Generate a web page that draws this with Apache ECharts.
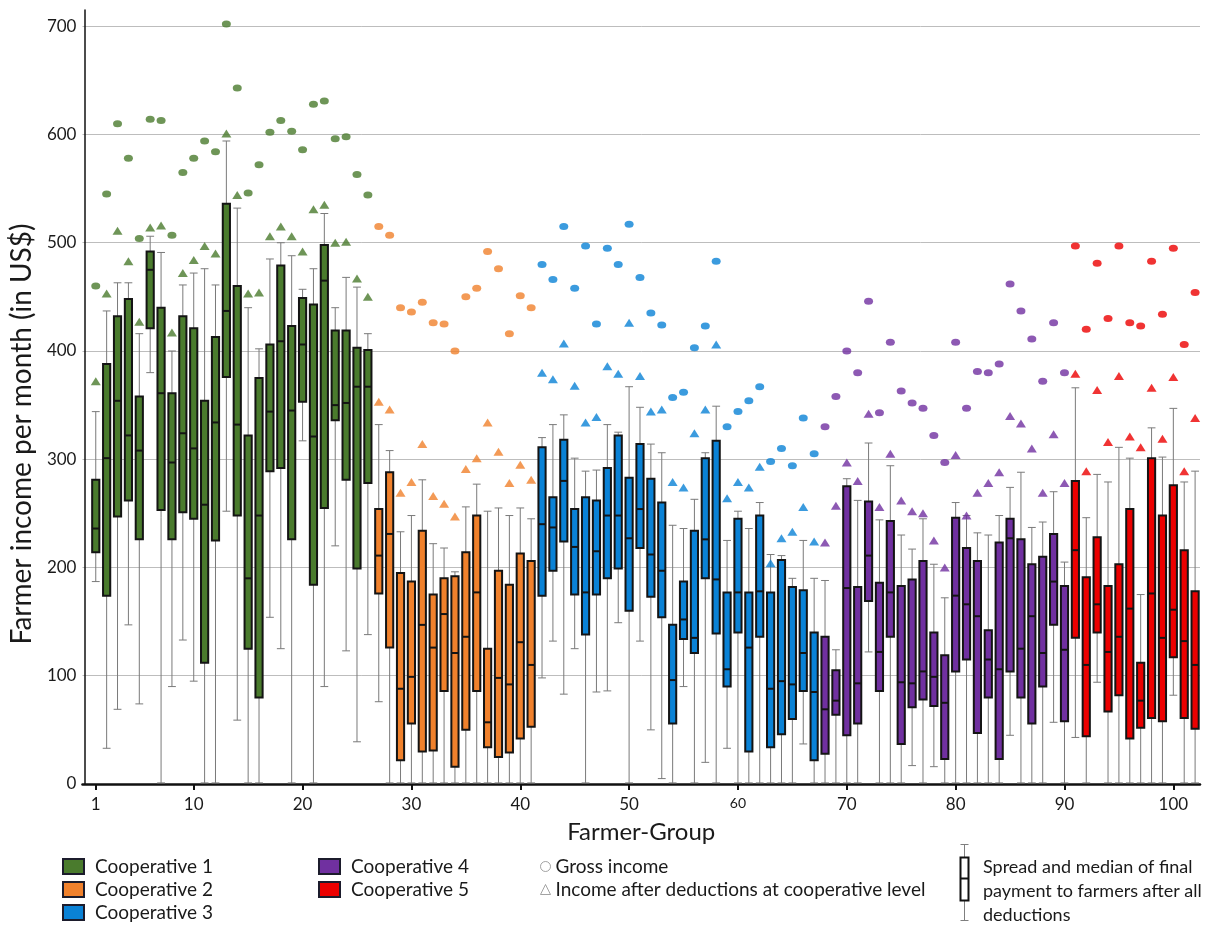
<!DOCTYPE html>
<html>
<head>
<meta charset="utf-8">
<title>Farmer income per month by farmer group</title>
<script src="https://cdn.jsdelivr.net/npm/echarts@6/dist/echarts.min.js"></script>
<style>
  html, body { margin: 0; padding: 0; background: #fff; }
  #chart { width: 1225px; height: 928px; }
</style>
</head>
<body>
<div id="chart"></div>
<script>
// cooperatives, in the order the farmer groups are numbered
const coopNames = ['Cooperative 1', 'Cooperative 2', 'Cooperative 3', 'Cooperative 4', 'Cooperative 5']
const coopSizes = [26, 15, 26, 23, 12]
const coopColors = ['#4a7b2d', '#f0812c', '#0a82d6', '#7030a0', '#ec0000']
const xTickLabels = [1, 10, 20, 30, 40, 50, 60, 70, 80, 90, 100]

// final payment to farmers (US$ / month), one value per farmer group 1..102
const whiskerLow = [
  187, 33, 69, 147, 74, 380, 1, 90, 133, 95, 1, 1, 252, 59, 1, 1, 154, 125, 1, 317, 1, 90, 220, 123, 39, 138,
  76, 1, 1, 1, 1, 1, 1, 1, 1, 1, 1, 1, 1, 1, 1,
  98, 132, 83, 125, 1, 85, 86, 149, 1, 132, 50, 5, 1, 90, 1, 20, 1, 33, 1, 1, 1, 1, 1, 1, 37, 1,
  1, 1, 1, 1, 122, 1, 1, 1, 17, 1, 16, 1, 1, 1, 1, 1, 1, 45, 1, 1, 1, 57, 1,
  43, 1, 94, 1, 1, 1, 1, 1, 1, 82, 1, 1
]
const boxLow = [
  214, 174, 247, 262, 226, 421, 253, 226, 251, 245, 112, 225, 376, 248, 125, 80, 289, 292, 226, 353, 184, 255, 336, 281, 199, 278,
  176, 126, 22, 56, 30, 31, 86, 16, 50, 86, 34, 25, 29, 42, 53,
  174, 197, 224, 175, 138, 175, 190, 199, 160, 218, 173, 154, 56, 134, 121, 190, 139, 90, 140, 30, 136, 34, 46, 60, 86, 22,
  28, 64, 45, 56, 169, 86, 136, 37, 71, 78, 72, 23, 104, 115, 47, 80, 23, 104, 80, 56, 90, 147, 58,
  135, 44, 140, 67, 82, 42, 52, 61, 58, 117, 61, 51
]
const median = [
  236, 301, 354, 322, 308, 475, 361, 297, 324, 310, 258, 334, 437, 332, 190, 248, 344, 409, 345, 406, 321, 465, 350, 352, 367, 367,
  211, 231, 88, 99, 147, 126, 157, 121, 136, 177, 57, 98, 92, 131, 110,
  240, 237, 280, 219, 177, 215, 248, 248, 227, 254, 212, 197, 96, 152, 135, 226, 189, 106, 177, 126, 178, 88, 95, 92, 121, 85,
  69, 77, 181, 93, 211, 122, 177, 94, 93, 104, 99, 75, 174, 166, 155, 115, 106, 227, 125, 155, 121, 187, 124,
  216, 110, 166, 122, 136, 162, 77, 176, 135, 161, 132, 110
]
const boxHigh = [
  281, 388, 432, 448, 358, 492, 440, 361, 432, 421, 354, 413, 536, 460, 322, 375, 406, 479, 423, 449, 443, 498, 419, 419, 403, 401,
  254, 288, 195, 187, 234, 175, 190, 192, 214, 248, 125, 197, 184, 213, 206,
  311, 265, 318, 254, 265, 262, 292, 322, 283, 314, 282, 260, 147, 187, 234, 301, 317, 177, 245, 177, 248, 177, 207, 182, 179, 140,
  136, 105, 275, 182, 261, 186, 243, 183, 189, 206, 140, 119, 246, 218, 206, 142, 223, 245, 226, 203, 210, 231, 183,
  280, 191, 228, 183, 203, 254, 112, 301, 248, 276, 216, 178
]
const whiskerHigh = [
  344, 437, 463, 463, 416, 506, 491, 400, 461, 472, 476, 461, 594, 532, 440, 402, 485, 500, 488, 457, 476, 527, 440, 468, 459, 416,
  332, 308, 233, 248, 281, 222, 218, 196, 256, 277, 252, 255, 248, 255, 245,
  320, 332, 341, 301, 289, 290, 332, 325, 367, 348, 314, 306, 239, 236, 263, 306, 349, 225, 252, 236, 260, 212, 211, 190, 225, 190,
  188, 124, 282, 262, 315, 244, 294, 230, 217, 245, 203, 172, 260, 248, 232, 230, 248, 274, 288, 237, 242, 270, 205,
  366, 246, 286, 279, 311, 301, 175, 329, 302, 347, 279, 289
]
// gross income (circles) and income after deductions at cooperative level (triangles)
const grossIncome = [
  460, 545, 610, 578, 504, 614, 613, 507, 565, 578, 594, 584, 702, 643, 546, 572, 602, 613, 603, 586, 628, 631, 596, 598, 563, 544,
  515, 507, 440, 436, 445, 426, 425, 400, 450, 458, 492, 476, 416, 451, 440,
  480, 466, 515, 458, 497, 425, 495, 480, 517, 468, 435, 424, 357, 362, 403, 423, 483, 330, 344, 354, 367, 298, 310, 294, 338, 305,
  330, 358, 400, 380, 446, 343, 408, 363, 352, 347, 322, 297, 408, 347, 381, 380, 388, 462, 437, 411, 372, 426, 380,
  497, 420, 481, 430, 497, 426, 423, 483, 434, 495, 406, 454
]
const afterDeductions = [
  372, 453, 511, 483, 427, 514, 516, 417, 472, 484, 497, 490, 601, 544, 453, 454, 506, 515, 506, 492, 531, 535, 500, 501, 467, 450,
  353, 346, 269, 279, 314, 266, 259, 247, 291, 301, 334, 307, 278, 295, 281,
  380, 374, 407, 368, 334, 339, 386, 379, 426, 377, 344, 346, 279, 274, 324, 346, 406, 264, 279, 274, 293, 204, 227, 233, 256, 224,
  223, 257, 297, 280, 342, 256, 305, 262, 252, 250, 225, 200, 304, 248, 269, 278, 288, 340, 333, 310, 269, 323, 278,
  379, 289, 364, 316, 377, 321, 311, 366, 319, 376, 289, 338
]

const font = 'Lato, "Liberation Sans", sans-serif'
const ink = '#1a1a1a'

const groupCoop = []
coopSizes.forEach((n, c) => {
  for (let k = 0; k < n; k++) groupCoop.push(c)
})

// whisker + box + median, drawn through the axes with api.coord
function renderBox(params, api) {
  const x = api.value(0)
  const lo = api.coord([x, api.value(1)])
  const q1 = api.coord([x, api.value(2)])
  const md = api.coord([x, api.value(3)])
  const q3 = api.coord([x, api.value(4)])
  const hi = api.coord([x, api.value(5)])
  const unit = api.size([1, 0])[0]
  const bw = unit * 0.66
  const cw = unit * 0.72
  const cx = lo[0]
  const whisker = { stroke: '#7a7a7a', lineWidth: 1 }
  return {
    type: 'group',
    children: [
      { type: 'line', shape: { x1: cx, y1: hi[1], x2: cx, y2: lo[1] }, style: whisker },
      { type: 'line', shape: { x1: cx - cw / 2, y1: hi[1], x2: cx + cw / 2, y2: hi[1] }, style: whisker },
      { type: 'line', shape: { x1: cx - cw / 2, y1: lo[1], x2: cx + cw / 2, y2: lo[1] }, style: whisker },
      {
        type: 'rect',
        shape: { x: cx - bw / 2, y: q3[1], width: bw, height: q1[1] - q3[1] },
        style: { fill: api.visual('color'), stroke: '#141414', lineWidth: 2 }
      },
      { type: 'line', shape: { x1: cx - bw / 2, y1: md[1], x2: cx + bw / 2, y2: md[1] }, style: { stroke: '#141414', lineWidth: 2 } }
    ]
  }
}

const boxSeries = coopNames.map((name, c) => ({
  name: name,
  type: 'custom',
  renderItem: renderBox,
  itemStyle: { color: coopColors[c] },
  encode: { x: 0, y: [1, 2, 3, 4, 5] },
  z: 2,
  data: groupCoop
    .map((gc, i) => (gc === c ? [i + 1, whiskerLow[i], boxLow[i], median[i], boxHigh[i], whiskerHigh[i]] : null))
    .filter(d => d)
}))

function pointData(values) {
  return values.map((v, i) => ({
    value: [i + 1, v],
    itemStyle: { color: coopColors[groupCoop[i]] }
  }))
}

const coopLegend = {
  orient: 'vertical',
  top: 857,
  height: 90,
  padding: 0,
  icon: 'rect',
  itemWidth: 21,
  itemHeight: 15,
  itemGap: 4,
  selectedMode: false,
  itemStyle: { borderColor: '#1c1c2c', borderWidth: 2 },
  textStyle: { fontSize: 19, color: ink, fontFamily: font, padding: [0, 0, 0, 6] }
}

const chart = echarts.init(document.getElementById('chart'))
chart.setOption({
  animation: false,
  textStyle: { fontFamily: font, color: ink },
  grid: { left: 80, right: 25, top: 10, bottom: 144 },
  xAxis: {
    type: 'value',
    min: -0.22,
    max: 102.45,
    name: 'Farmer-Group',
    nameLocation: 'middle',
    nameGap: 36,
    nameTextStyle: { fontSize: 24, color: ink, fontFamily: font },
    axisLine: { lineStyle: { color: '#111', width: 2.5 } },
    axisTick: { show: true, customValues: xTickLabels, length: 6, lineStyle: { color: '#111', width: 2 } },
    axisLabel: {
      customValues: xTickLabels,
      fontSize: 17,
      color: ink,
      margin: 12,
      formatter: v => (v === 60 ? '{small|60}' : String(v)),
      rich: { small: { fontSize: 14, color: ink, fontFamily: font } }
    },
    splitLine: { show: false }
  },
  yAxis: {
    type: 'value',
    min: 0,
    max: 715,
    interval: 100,
    name: 'Farmer income per month (in US$)',
    nameLocation: 'middle',
    nameGap: 44,
    nameTextStyle: { fontSize: 28, color: ink, fontFamily: font, padding: [0, 74, 0, 0] },
    axisLine: { show: true, lineStyle: { color: '#111', width: 1.5 } },
    axisTick: { show: false },
    axisLabel: { fontSize: 17, color: ink, margin: 6, showMaxLabel: false },
    splitLine: { show: true, showMinLine: false, showMaxLine: false, lineStyle: { color: '#bdbdbd', width: 1 } }
  },
  legend: [
    Object.assign({}, coopLegend, { data: coopNames.slice(0, 3), left: 62 }),
    Object.assign({}, coopLegend, { data: coopNames.slice(3), left: 318 }),
    {
      data: [
        { name: 'Gross income', icon: 'circle', itemStyle: { color: '#fff', borderColor: '#8c8c8c', borderWidth: 1 } },
        { name: 'Income after deductions at cooperative level', icon: 'triangle', itemStyle: { color: '#fff', borderColor: '#8c8c8c', borderWidth: 1 } }
      ],
      orient: 'vertical',
      left: 540,
      top: 857,
      height: 90,
      padding: 0,
      itemWidth: 10,
      itemHeight: 10,
      itemGap: 4,
      selectedMode: false,
      textStyle: { fontSize: 19, color: ink, fontFamily: font }
    }
  ],
  graphic: [
    {
      type: 'group',
      left: 958,
      top: 842,
      children: [
        { type: 'line', shape: { x1: 5, y1: 0, x2: 5, y2: 76 }, style: { stroke: '#7f7f7f', lineWidth: 1 } },
        { type: 'line', shape: { x1: 1, y1: 0, x2: 9, y2: 0 }, style: { stroke: '#7f7f7f', lineWidth: 1 } },
        { type: 'line', shape: { x1: 1, y1: 76, x2: 9, y2: 76 }, style: { stroke: '#7f7f7f', lineWidth: 1 } },
        { type: 'rect', shape: { x: 1, y: 13, width: 8, height: 43 }, style: { fill: '#fff', stroke: '#111', lineWidth: 2 } },
        { type: 'line', shape: { x1: 1, y1: 34, x2: 9, y2: 34 }, style: { stroke: '#111', lineWidth: 2 } }
      ]
    },
    {
      type: 'text',
      left: 983,
      top: 855,
      style: {
        text: 'Spread and median of final\npayment to farmers after all\ndeductions',
        fontSize: 18,
        lineHeight: 24,
        fill: ink,
        fontFamily: font
      }
    }
  ],
  series: boxSeries.concat([
    {
      name: 'Gross income',
      type: 'scatter',
      symbol: 'circle',
      symbolSize: [9, 7],
      z: 3,
      data: pointData(grossIncome)
    },
    {
      name: 'Income after deductions at cooperative level',
      type: 'scatter',
      symbol: 'triangle',
      symbolSize: [10, 8],
      z: 3,
      data: pointData(afterDeductions)
    }
  ])
})
</script>
</body>
</html>
